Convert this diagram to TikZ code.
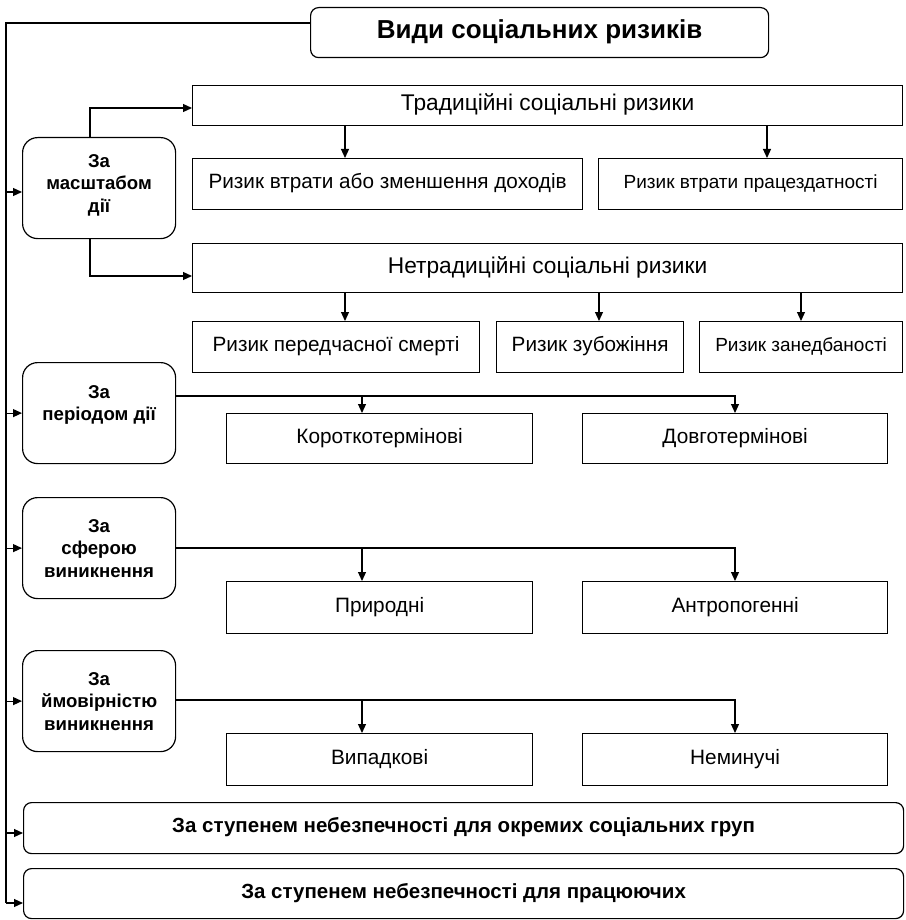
\documentclass[tikz,border=0pt]{standalone}
\usepackage{fontspec}
\setmainfont{Liberation Sans}
\usetikzlibrary{arrows.meta}
\begin{document}
\begin{tikzpicture}[x=1pt,y=-1pt,line width=1.2pt,
  box/.style={draw, rectangle, anchor=north west, inner sep=0pt, align=center},
  sbox/.style={box, execute at begin node=\strut},
  rbox/.style={box, rounded corners=15pt},
  lbox/.style={sbox, rounded corners=8pt},
  arr/.style={-{Triangle[length=9pt,width=8pt]}},
  fbig/.style={font=\fontsize{22.7}{26}\selectfont},
  fmid/.style={font=\fontsize{20.7}{24}\selectfont},
  fsm/.style={font=\fontsize{19}{24}\selectfont},
  fper/.style={font=\fontsize{20.8}{24}\selectfont},
  fkey/.style={font=\bfseries\fontsize{18.6}{22.5}\selectfont},
  fbot/.style={font=\bfseries\fontsize{20.5}{24}\selectfont}]
\useasboundingbox (0,0) rectangle (905,920);

\node[lbox, minimum width=458pt, minimum height=50pt, font=\bfseries\fontsize{26}{30}\selectfont] (title) at (310,7) {Види соціальних ризиків};

\node[sbox, fbig, minimum width=710pt, minimum height=40pt] (trad) at (192,85) {Традиційні соціальні ризики};
\node[sbox, fmid, minimum width=390pt, minimum height=51pt] (t1) at (192,158) {Ризик втрати або зменшення доходів};
\node[sbox, fsm, minimum width=304pt, minimum height=51pt] (t2) at (598,158) {Ризик втрати працездатності};

\node[sbox, fbig, minimum width=710pt, minimum height=49pt] (nontrad) at (192,243) {Нетрадиційні соціальні ризики};
\node[sbox, fmid, minimum width=287pt, minimum height=51pt] (n1) at (192,321) {Ризик передчасної смерті};
\node[sbox, fmid, minimum width=187pt, minimum height=51pt] (n2) at (496,321) {Ризик зубожіння};
\node[sbox, fsm, minimum width=203pt, minimum height=51pt] (n3) at (699,321) {Ризик занедбаності};

\node[rbox, fkey, minimum width=153pt, minimum height=101pt] (k1) at (22,137) {За\\масштабом\\дії\\[-12.5pt]};
\node[rbox, fkey, minimum width=153pt, minimum height=101pt] (k2) at (22,362) {За\\періодом дії\\[-2.5pt]};
\node[rbox, fkey, minimum width=153pt, minimum height=101pt] (k3) at (22,497) {За\\сферою\\виникнення};
\node[rbox, fkey, minimum width=153pt, minimum height=101pt] (k4) at (22,650) {За\\ймовірністю\\виникнення};

\node[sbox, fper, minimum width=306pt, minimum height=50pt] (p1) at (226,413) {Короткотермінові};
\node[sbox, fper, minimum width=305pt, minimum height=50pt] (p2) at (582,413) {Довготермінові};
\node[sbox, fper, minimum width=306pt, minimum height=52pt] (s1) at (226,581) {Природні};
\node[sbox, fper, minimum width=305pt, minimum height=52pt] (s2) at (582,581) {Антропогенні};
\node[sbox, fper, minimum width=306pt, minimum height=52pt] (v1) at (226,733) {Випадкові};
\node[sbox, fper, minimum width=305pt, minimum height=52pt] (v2) at (582,733) {Неминучі};

\node[lbox, fbot, minimum width=880pt, minimum height=51pt] (b1) at (23,802) {За ступенем небезпечності для окремих соціальних груп};
\node[lbox, fbot, minimum width=880pt, minimum height=50pt] (b2) at (23,868) {За ступенем небезпечності для працюючих};

% main spine
\coordinate (top) at (6,23);
\coordinate (bot) at (6,903);
\coordinate (j1) at (6,192);
\coordinate (j5) at (6,833);
\draw ([yshift=-16pt]title.north west) -- (top) -- (bot);
\draw[arr] (j1) -- (k1.west |- j1);
\draw[arr] (k2.west -| top) -- (k2.west);
\draw[arr] (k3.west -| top) -- (k3.west);
\draw[arr] (k4.west -| top) -- (k4.west);
\draw[arr] (j5) -- (b1.west |- j5);
\draw[arr] (bot) -- (b2.west |- bot);

% scale
\coordinate (u1) at (90,108);
\coordinate (u2) at (90,276);
\draw[arr] (k1.north -| u1) -- (u1) -- (trad.west |- u1);
\draw[arr] (k1.south -| u2) -- (u2) -- (nontrad.west |- u2);
\coordinate (a1) at (345,0);
\coordinate (a2) at (767,0);
\draw[arr] (trad.south -| a1) -- (t1.north -| a1);
\draw[arr] (trad.south -| a2) -- (t2.north -| a2);
\coordinate (a3) at (599,0);
\coordinate (a4) at (801,0);
\draw[arr] (nontrad.south -| a1) -- (n1.north -| a1);
\draw[arr] (nontrad.south -| a3) -- (n2.north -| a3);
\draw[arr] (nontrad.south -| a4) -- (n3.north -| a4);

% period
\coordinate (q1) at (362,396);
\coordinate (q2) at (735,396);
\draw (k2.east |- q1) -- (q1);
\draw[arr] (q1) -- (q2) -- (p2.north -| q2);
\draw[arr] (q1) -- (p1.north -| q1);

% sphere
\coordinate (r1) at (362,548);
\coordinate (r2) at (735,548);
\draw (k3.east |- r1) -- (r1);
\draw[arr] (r1) -- (r2) -- (s2.north -| r2);
\draw[arr] (r1) -- (s1.north -| r1);

% probability
\coordinate (w1) at (362,700);
\coordinate (w2) at (735,700);
\draw (k4.east |- w1) -- (w1);
\draw[arr] (w1) -- (w2) -- (v2.north -| w2);
\draw[arr] (w1) -- (v1.north -| w1);
\end{tikzpicture}
\end{document}
